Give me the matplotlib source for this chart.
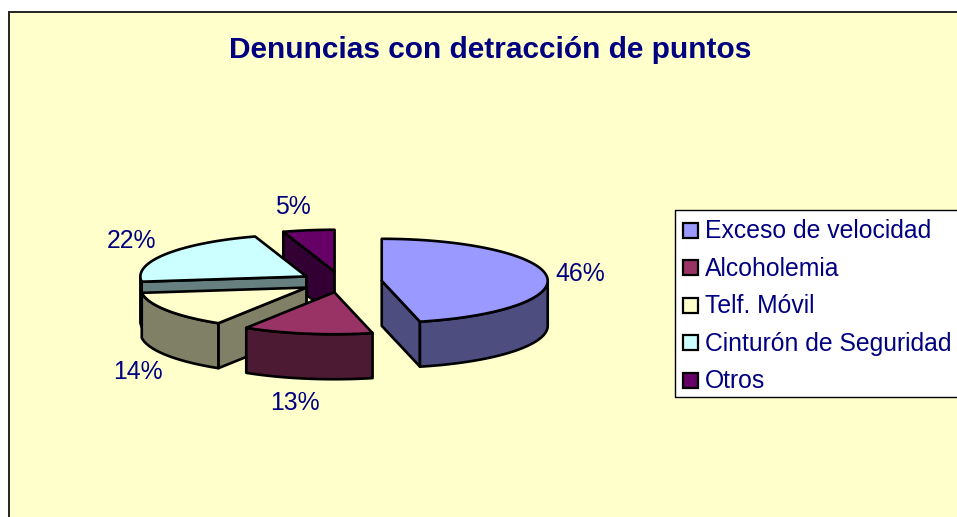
import numpy as np
import matplotlib
matplotlib.use("Agg")
import matplotlib.pyplot as plt
from matplotlib.patches import Polygon, Rectangle

plt.rcParams['font.family'] = ['Liberation Sans', 'DejaVu Sans']

# --- data ---
title = "Denuncias con detracción de puntos"
categories = ["Exceso de velocidad", "Alcoholemia", "Telf. Móvil", "Cinturón de Seguridad", "Otros"]
values = [46.3, 12.6, 14.1, 22.0, 5.0]
top_colors = ["#9999FF", "#993366", "#FFFFCC", "#CCFFFF", "#660066"]
side_colors = ["#4D4D80", "#4D1A33", "#808066", "#668080", "#330033"]

# --- layout (pixels) ---
W, H = 957, 517
CX, CY = 341, 282          # pie centre
RX, RY = 166, 42           # ellipse radii of the tilted pie
DEPTH = 45                 # pie thickness
EXPLODE = 41               # slice separation
DRAW_ORDER = [4, 3, 0, 2, 1]
LABEL_POS = [(580, 274), (295, 403), (138, 372), (132, 241), (293, 207)]
TEXT = "#000080"
LW = 1.9

fig = plt.figure(figsize=(W / 100, H / 100), dpi=100, facecolor="white")
ax = fig.add_axes([0, 0, 1, 1])
ax.set_xlim(0, W)
ax.set_ylim(H, 0)
ax.axis("off")

# chart area runs past the right and bottom edges of the picture
ax.add_patch(Rectangle((9, 12), W + 20, H + 20, facecolor="#FFFFCC",
                       edgecolor="#222222", linewidth=1.4, zorder=0))

ax.text(490, 50, title, color=TEXT, fontsize=21.5, fontweight="bold",
        ha="center", va="center")


def rim(cx, cy, deg):
    t = np.radians(deg)
    return cx + RX * np.sin(t), cy - RY * np.cos(t)


def face(xs, ys, color, z):
    ax.add_patch(Polygon(np.column_stack([xs, ys]), closed=True, facecolor=color,
                         edgecolor="black", linewidth=LW, joinstyle="round", zorder=z))


# slice angles clockwise from 12 o'clock, taken from the values
fractions = np.array(values, dtype=float) / sum(values)
edges = np.concatenate([[0], np.cumsum(fractions) * 360])

z = 2
for i in DRAW_ORDER:
    a0, a1 = edges[i], edges[i + 1]
    mid = np.radians((a0 + a1) / 2)
    cx = CX + EXPLODE * np.sin(mid)
    cy = CY - EXPLODE * RY / RX * np.cos(mid)
    side = side_colors[i]

    # cut faces, only those turned towards the viewer
    for a, sign in ((a0, -1), (a1, 1)):
        if sign * np.sin(np.radians(a)) > 1e-6:
            rx_, ry_ = rim(cx, cy, a)
            face([cx, rx_, rx_, cx], [cy, ry_, ry_ + DEPTH, cy + DEPTH], side, z)
            z += 1

    # outer wall: only the part facing the viewer
    w0, w1 = max(a0, 90), min(a1, 270)
    if w1 > w0:
        th = np.linspace(w0, w1, 80)
        x, y = rim(cx, cy, th)
        face(np.concatenate([x, x[::-1]]), np.concatenate([y, y[::-1] + DEPTH]), side, z)
        z += 1

    # top
    th = np.linspace(a0, a1, 120)
    x, y = rim(cx, cy, th)
    face(np.concatenate([[cx], x]), np.concatenate([[cy], y]), top_colors[i], z)
    z += 1

for val, (lx, ly) in zip(values, LABEL_POS):
    ax.text(lx, ly, f"{val:.0f}%", color=TEXT, fontsize=17.8, ha="center", va="center", zorder=200)

# legend, also cut by the right edge
ax.add_patch(Rectangle((675, 210), W, 187, facecolor="white", edgecolor="black",
                       linewidth=1.0, zorder=150))
LEG_Y = np.linspace(230, 380, len(categories))
for name, col, ly in zip(categories, top_colors, LEG_Y):
    ax.add_patch(Rectangle((683, ly - 7.5), 15, 15, facecolor=col, edgecolor="black",
                           linewidth=1.6, zorder=160))
    ax.text(705, ly + 1, name, color=TEXT, fontsize=17.8, ha="left", va="center", zorder=160)

fig.savefig("out.png", dpi=100, facecolor="white")
